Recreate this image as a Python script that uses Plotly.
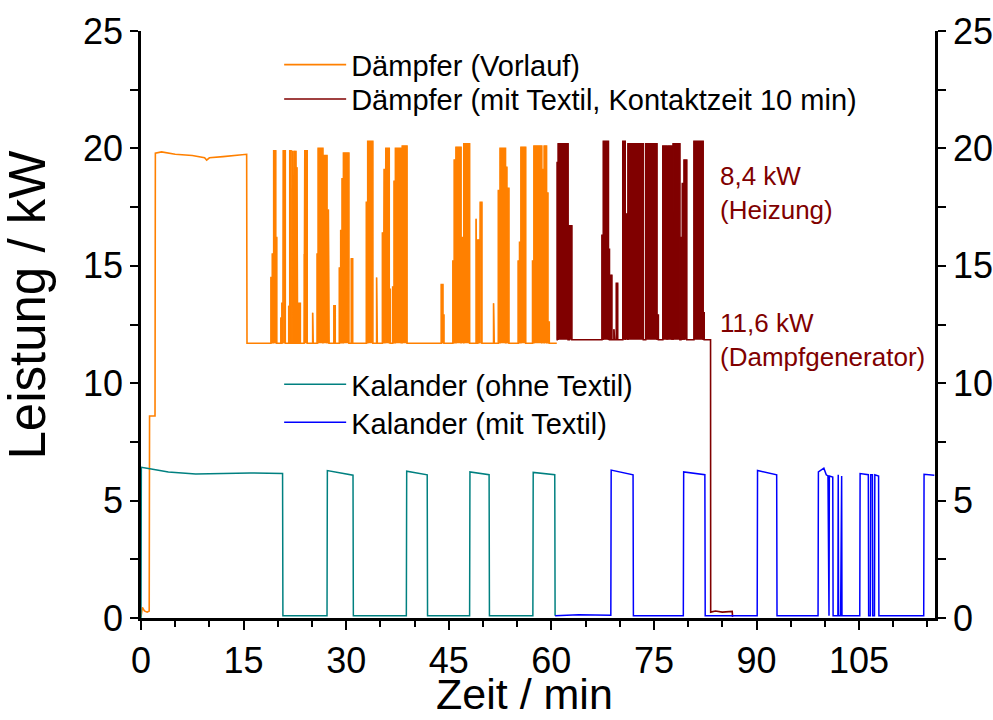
import plotly.graph_objects as go

# ---------------- data ----------------
# Kalander (ohne Textil): time [min], power [kW]
kal_ohne_t = [0.0, 0.05, 1.5, 4.0, 8.0, 12.0, 16.0, 20.7, 20.75, 27.2, 27.25, 31.0, 31.05,
              38.8, 38.85, 41.85, 41.9, 48.05, 48.1, 50.9, 50.95, 57.3, 57.35, 60.5, 60.55]
kal_ohne_kw = [0.0, 6.42, 6.35, 6.22, 6.13, 6.16, 6.18, 6.15, 0.1, 0.1, 6.28, 6.08, 0.1,
               0.1, 6.25, 6.1, 0.1, 0.1, 6.22, 6.1, 0.1, 0.1, 6.2, 6.1, 0.1]

# Kalander (mit Textil)
kal_mit_t = [60.55, 64.0, 68.7, 68.75, 71.95, 72.0, 79.3, 79.35, 82.45, 82.5, 90.1, 90.15,
             92.95, 93.0, 99.0, 99.05, 99.85, 100.2, 100.45, 100.5, 100.6, 100.65, 101.15,
             101.2, 101.9, 101.95, 102.0, 102.3, 102.35, 102.45, 102.5, 105.1, 105.15, 106.35,
             106.4, 106.65, 106.7, 106.95, 107.0, 107.25, 107.3, 107.85, 107.9, 114.45, 114.5, 116.0]
kal_mit_kw = [0.1, 0.14, 0.12, 6.3, 6.1, 0.1, 0.1, 6.22, 6.1, 0.1, 0.1, 6.28,
              6.1, 0.1, 0.1, 6.22, 6.38, 6.1, 6.05, 0.1, 0.1, 6.05, 6.0,
              0.1, 0.1, 6.1, 0.1, 0.1, 6.05, 6.05, 0.1, 0.1, 6.15, 6.1,
              0.1, 0.1, 6.1, 6.1, 0.1, 0.1, 6.1, 6.05, 0.1, 0.1, 6.12, 6.08]

# Dämpfer (Vorlauf): start-up profile, then on/off pulses above the base level
vorlauf_start_t = [0.0, 0.2, 0.5, 0.9, 1.2, 1.25, 2.05, 2.1, 3.0, 5.0, 7.5, 9.3, 9.6,
                   10.0, 12.0, 13.5, 15.45, 15.5]
vorlauf_start_kw = [0.05, 0.45, 0.3, 0.25, 0.3, 8.6, 8.6, 19.8, 19.85, 19.75, 19.7, 19.6, 19.5,
                    19.6, 19.65, 19.7, 19.75, 11.7]
vorlauf_base = 11.7
vorlauf_on = [19.0, 19.2, 19.4, 19.7, 20.45, 20.6, 20.8, 21.6, 21.75, 21.95, 22.2, 22.45,
              22.65, 22.8, 23.1, 23.85, 23.95, 25.1, 25.75, 25.9, 26.6, 27.3, 27.4, 28.2,
              29.0, 29.2, 29.4, 29.6, 30.75, 32.95, 33.15, 34.45, 35.3, 35.55, 35.8, 36.3,
              36.8, 37.0, 37.2, 38.05, 38.2, 43.9, 44.15, 45.6, 45.8, 46.05, 46.8, 47.2,
              49.0, 49.25, 49.6, 51.55, 52.25, 52.5, 53.3, 53.5, 55.15, 55.35, 55.55,
              57.25, 57.45, 58.6, 58.95, 59.3, 59.5]
vorlauf_off = [19.2, 19.4, 19.7, 19.85, 20.55, 20.75, 21.1, 21.68, 21.95, 22.05, 22.3, 22.55,
               22.75, 22.9, 23.3, 23.95, 24.3, 25.18, 25.9, 26.6, 27.2, 27.4, 27.5, 28.4,
               29.2, 29.4, 29.6, 30.4, 30.95, 33.15, 33.9, 34.55, 35.45, 35.7, 36.3, 36.45,
               37.0, 37.2, 38.05, 38.2, 38.9, 44.15, 44.3, 45.8, 46.05, 46.8, 47.2, 48.05,
               49.1, 49.5, 49.85, 51.65, 52.5, 53.3, 53.5, 53.8, 55.35, 55.55, 56.25,
               57.45, 58.6, 58.95, 59.3, 59.5, 59.7]
vorlauf_peak = [14.5, 15.5, 19.9, 16.2, 12.8, 13.4, 19.9, 13.3, 19.9, 18.3, 19.9, 19.9,
                19.9, 19.2, 13.4, 15.5, 19.9, 13.0, 15.5, 20.0, 19.7, 13.9, 17.4, 13.3,
                14.9, 16.5, 18.7, 19.8, 15.3, 17.7, 20.3, 14.5, 16.4, 19.1, 20.0, 14.0,
                14.1, 18.6, 20.0, 18.4, 20.1, 14.2, 12.9, 15.2, 19.5, 20.05, 16.2, 20.2,
                17.0, 16.1, 17.7, 13.4, 18.2, 20.0, 19.2, 18.3, 15.2, 16.0, 20.05,
                15.2, 20.1, 19.1, 20.1, 18.1, 12.6]
vorlauf_end_t = [60.8]
vorlauf_end_kw = [11.7]

# Dämpfer (mit Textil, Kontaktzeit 10 min)
textil_start_t = [60.75]
textil_start_kw = [11.85]
textil_base = 11.85
textil_on = [60.85, 61.0, 62.65, 67.4, 67.6, 68.35, 68.7, 69.15, 69.5, 70.45, 70.8, 71.2,
             73.8, 75.45, 76.3, 77.05, 77.65, 77.8, 78.95, 79.15, 79.4, 80.85, 82.2]
textil_off = [61.0, 62.45, 63.0, 67.6, 68.35, 68.5, 68.85, 69.25, 69.7, 70.8, 71.2, 73.45,
              75.45, 75.65, 76.95, 77.6, 77.8, 78.8, 79.15, 79.4, 79.8, 82.2, 82.35]
textil_peak = [19.4, 20.2, 16.7, 16.3, 20.3, 15.7, 14.6, 12.3, 14.25, 20.3, 17.2, 20.2,
               20.2, 12.9, 20.1, 20.1, 17.3, 20.2, 16.2, 18.5, 19.5, 20.3, 13.0]
textil_end_t = [83.28, 83.3, 84.0, 85.0, 86.45, 86.5]
textil_end_kw = [11.85, 0.25, 0.3, 0.25, 0.28, 0.05]

x_ticks = [0, 15, 30, 45, 60, 75, 90, 105]
y_ticks = [0, 5, 10, 15, 20, 25]

ORANGE = "#FF8000"
DARKRED = "#800000"
TEAL = "#008080"
BLUE = "#0000FF"


def pulse_path(t0, k0, on, off, peak, base, t1, k1):
    xs, ys = list(t0), list(k0)
    for s, e, p in zip(on, off, peak):
        xs += [s, s, e, e]
        ys += [base, p, p, base]
    return xs + list(t1), ys + list(k1)


def pulse_fill(on, off, peak, base):
    xs, ys = [], []
    for s, e, p in zip(on, off, peak):
        xs += [s, s, e, e, None]
        ys += [base, p, p, base, None]
    return xs, ys


fig = go.Figure()

# filled on/off blocks (dense switching)
fx, fy = pulse_fill(vorlauf_on, vorlauf_off, vorlauf_peak, vorlauf_base)
fig.add_trace(go.Scatter(x=fx, y=fy, mode="lines", fill="toself", fillcolor=ORANGE,
                         line=dict(color=ORANGE, width=0.5), showlegend=False, hoverinfo="skip"))
fx, fy = pulse_fill(textil_on, textil_off, textil_peak, textil_base)
fig.add_trace(go.Scatter(x=fx, y=fy, mode="lines", fill="toself", fillcolor=DARKRED,
                         line=dict(color=DARKRED, width=0.5), showlegend=False, hoverinfo="skip"))

vx, vy = pulse_path(vorlauf_start_t, vorlauf_start_kw, vorlauf_on, vorlauf_off, vorlauf_peak,
                    vorlauf_base, vorlauf_end_t, vorlauf_end_kw)
fig.add_trace(go.Scatter(x=vx, y=vy, mode="lines", name="Dämpfer (Vorlauf)",
                         line=dict(color=ORANGE, width=1.6), legend="legend"))
tx, ty = pulse_path(textil_start_t, textil_start_kw, textil_on, textil_off, textil_peak,
                    textil_base, textil_end_t, textil_end_kw)
fig.add_trace(go.Scatter(x=tx, y=ty, mode="lines",
                         name="Dämpfer (mit Textil, Kontaktzeit 10 min)",
                         line=dict(color=DARKRED, width=1.6), legend="legend2"))

fig.add_trace(go.Scatter(x=kal_ohne_t, y=kal_ohne_kw, mode="lines", name="Kalander (ohne Textil)",
                         line=dict(color=TEAL, width=1.5), legend="legend3"))
fig.add_trace(go.Scatter(x=kal_mit_t, y=kal_mit_kw, mode="lines", name="Kalander (mit Textil)",
                         line=dict(color=BLUE, width=1.5), legend="legend4"))
# invisible trace to carry the right-hand axis
fig.add_trace(go.Scatter(x=[0], y=[0], yaxis="y2", mode="lines", line=dict(width=0),
                         showlegend=False, hoverinfo="skip"))

SANS = "Liberation Sans, Arial, sans-serif"
TICKFONT = dict(family=SANS, size=36, color="black")

axis_common = dict(showgrid=False, zeroline=False, showline=True, linecolor="black", linewidth=2.5,
                   ticks="outside", tickwidth=2, tickcolor="black", tickfont=TICKFONT,
                   automargin=False)
y_minor = dict(dtick=2.5, tick0=0, ticks="outside", ticklen=8, tickwidth=2, tickcolor="black")


def legend_at(y):
    return dict(x=0.174, y=y, xanchor="left", yanchor="top", bgcolor="rgba(0,0,0,0)",
                font=dict(family=SANS, size=29, color="black"), itemwidth=62)


fig.update_layout(
    width=993, height=720,
    margin=dict(l=141, r=58, t=31, b=102),
    plot_bgcolor="white", paper_bgcolor="white",
    xaxis=dict(range=[0, 116.1], tickvals=x_ticks, ticktext=[str(v) for v in x_ticks], ticklen=9,
               minor=dict(dtick=5, tick0=0, ticks="outside", ticklen=6, tickwidth=2, tickcolor="black"),
               **axis_common),
    yaxis=dict(range=[0, 25], tickvals=y_ticks, ticktext=[str(v) for v in y_ticks], ticklen=8,
               minor=y_minor, **axis_common),
    yaxis2=dict(range=[0, 25], overlaying="y", side="right", tickvals=y_ticks,
                ticktext=[str(v) for v in y_ticks], ticklen=8, minor=y_minor, **axis_common),
    legend=legend_at(0.9859),
    legend2=legend_at(0.9273),
    legend3=legend_at(0.4412),
    legend4=legend_at(0.3765),
    annotations=[
        dict(x=0.4836, y=-0.1738, xref="paper", yref="paper", text="Zeit / min", showarrow=False,
             xanchor="center", yanchor="bottom", font=dict(family=SANS, size=43, color="black")),
        dict(x=-0.143, y=0.533, xref="paper", yref="paper", text="Leistung / kW", showarrow=False,
             textangle=-90, xanchor="center", yanchor="middle",
             font=dict(family=SANS, size=51, color="black")),
        dict(x=84.3, y=19.55, xref="x", yref="y", text="8,4 kW<br>(Heizung)", showarrow=False,
             xanchor="left", yanchor="top", align="left",
             font=dict(family=SANS, size=26, color=DARKRED)),
        dict(x=84.3, y=13.28, xref="x", yref="y", text="11,6 kW<br>(Dampfgenerator)", showarrow=False,
             xanchor="left", yanchor="top", align="left",
             font=dict(family=SANS, size=26, color=DARKRED)),
    ],
)

fig.write_html("out.html")
